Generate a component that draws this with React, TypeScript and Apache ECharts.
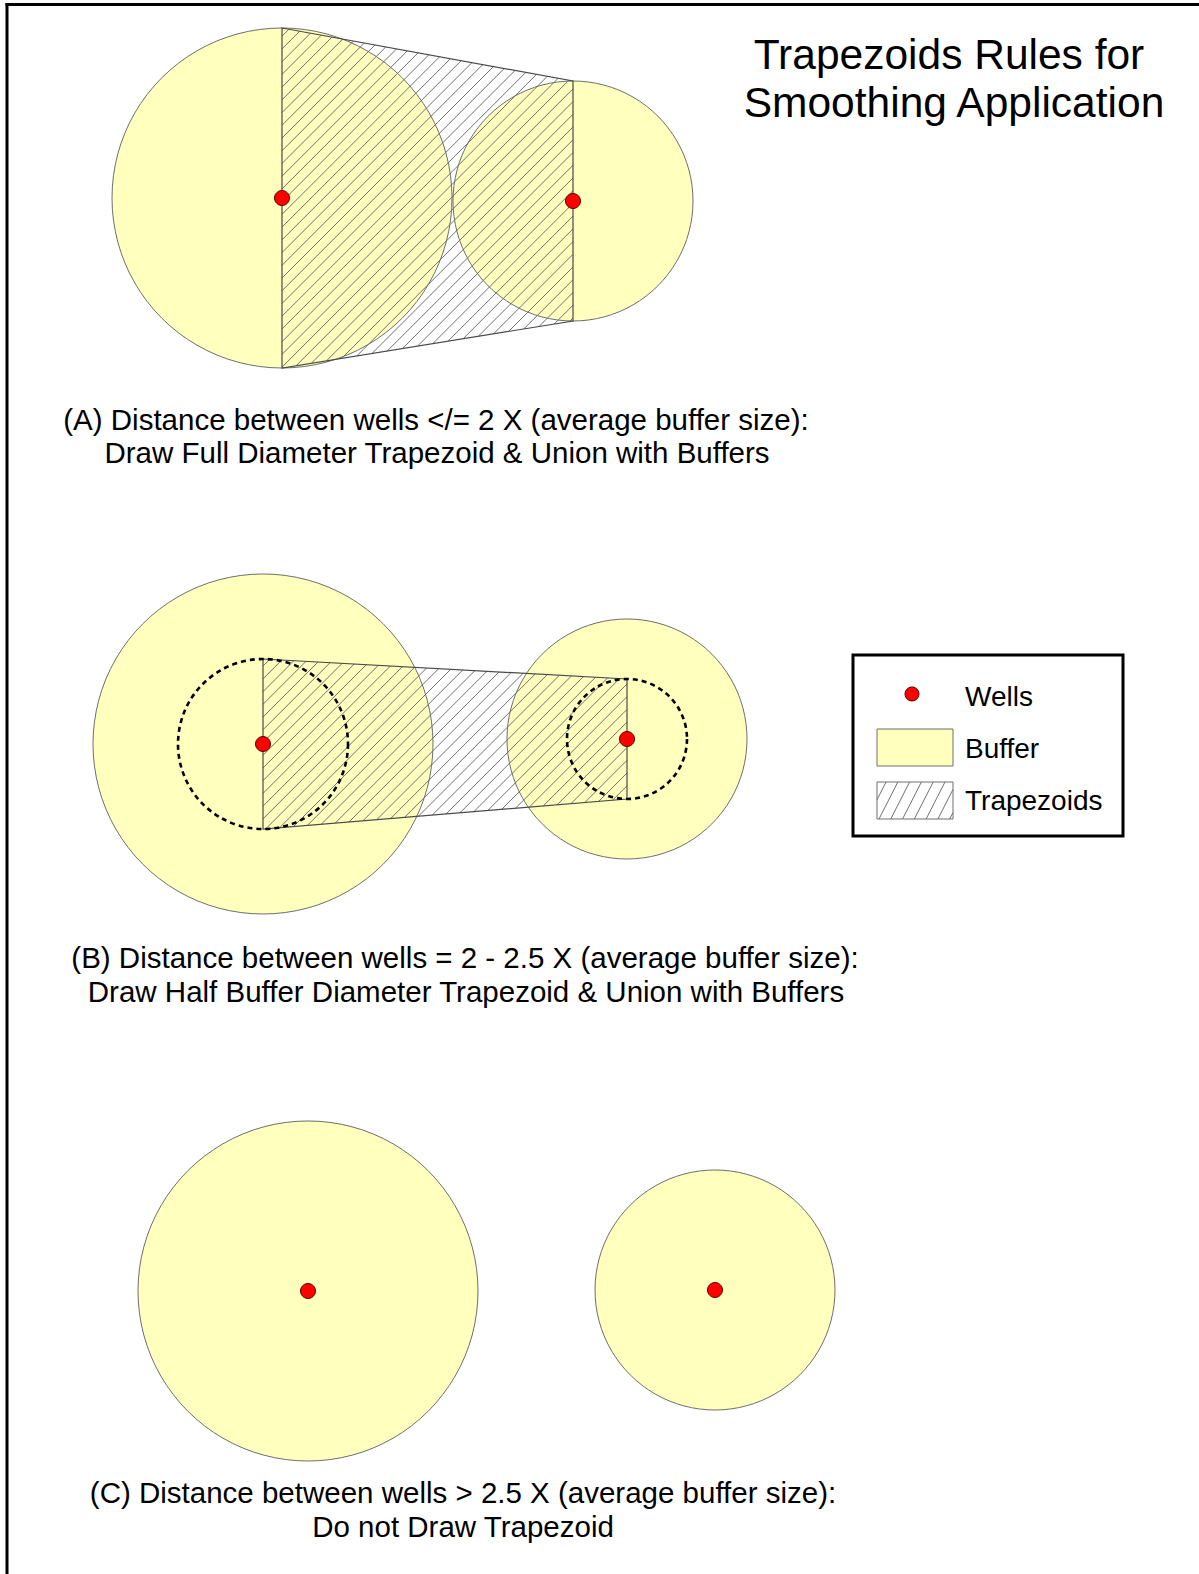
import React, { useEffect, useRef } from "react";
import * as echarts from "echarts";

const W = 1199;
const H = 1574;

// Diagram units (axis units = pixels of the figure)
// [centerX, centerY, radius]
const bufferCircles: number[][] = [
  [282, 198, 170],
  [573, 201, 120],
  [263, 744, 170],
  [627, 739, 120],
  [308, 1291, 170],
  [715, 1290, 120],
];
const halfBufferCircles: number[][] = [
  [263, 744, 85],
  [627, 739, 60],
];
// trapezoid corners x1,y1,x2,y2,x3,y3,x4,y4
const trapezoids: number[][] = [
  [282, 28, 573, 81, 573, 321, 282, 368],
  [263, 659, 627, 679, 627, 799, 263, 829],
];
const wells: number[][] = [
  [282, 198],
  [573, 201],
  [263, 744],
  [627, 739],
  [308, 1291],
  [715, 1290],
];

const titleLines = ["Trapezoids Rules for", "Smoothing Application"];
const captionsA = [
  "(A) Distance between wells </= 2 X (average buffer size):",
  "Draw Full Diameter Trapezoid & Union with Buffers",
];
const captionsB = [
  "(B) Distance between wells = 2 - 2.5 X (average buffer size):",
  "Draw Half Buffer Diameter Trapezoid & Union with Buffers",
];
const captionsC = [
  "(C) Distance between wells > 2.5 X (average buffer size):",
  "Do not Draw Trapezoid",
];
const legendLabels = ["Wells", "Buffer", "Trapezoids"];

const FONT = '"Liberation Sans", Arial, Helvetica, sans-serif';
const YELLOW = "#FFFFBE";
const OUTLINE = "#6E6E6E";
const HATCH = "#707070";

function hatchSegments(pts: number[][], spacing: number, angleDeg: number) {
  const a = (angleDeg * Math.PI) / 180;
  const d = [Math.cos(a), -Math.sin(a)];
  const n = [Math.sin(a), Math.cos(a)];
  const proj = pts.map((p) => p[0] * n[0] + p[1] * n[1]);
  const smin = Math.min(...proj);
  const smax = Math.max(...proj);
  const segs: number[][] = [];
  const start = Math.ceil(smin / spacing) * spacing;
  for (let s = start; s <= smax; s += spacing) {
    const hits: number[][] = [];
    for (let i = 0; i < pts.length; i++) {
      const j = (i + 1) % pts.length;
      const si = proj[i];
      const sj = proj[j];
      if (si === sj) continue;
      if ((si - s) * (sj - s) <= 0) {
        const t = (s - si) / (sj - si);
        hits.push([
          pts[i][0] + t * (pts[j][0] - pts[i][0]),
          pts[i][1] + t * (pts[j][1] - pts[i][1]),
        ]);
      }
    }
    if (hits.length >= 2) {
      hits.sort(
        (p, q) => p[0] * d[0] + p[1] * d[1] - (q[0] * d[0] + q[1] * d[1])
      );
      const p = hits[0];
      const q = hits[hits.length - 1];
      segs.push([p[0], p[1], q[0], q[1]]);
    }
  }
  return segs;
}

function circleRenderer(style: any) {
  return (params: any, api: any) => {
    const c = api.coord([api.value(0), api.value(1)]);
    const sz = api.size([api.value(2), api.value(2)]);
    const r = Math.abs(sz[0]);
    return {
      type: "circle",
      shape: { cx: c[0], cy: c[1], r },
      style,
    };
  };
}

function textEl(text: string, x: number, y: number, size: number, align = "center") {
  return {
    type: "text",
    x,
    y,
    silent: true,
    style: {
      text,
      fill: "#000",
      fontSize: size,
      fontFamily: FONT,
      align,
      verticalAlign: "middle",
      textAlign: align,
      textVerticalAlign: "middle",
    },
  };
}

export default function App() {
  const ref = useRef<HTMLDivElement>(null);

  useEffect(() => {
    if (!ref.current) return;
    const chart = echarts.init(ref.current, null, {
      renderer: "svg",
      width: W,
      height: H,
    });

    const capSize = 29.5;
    const legendSize = 28;
    const legendBox = { x: 877, w: 76, h: 37 };
    const legendHatchPts = [
      [legendBox.x, 782],
      [legendBox.x + legendBox.w, 782],
      [legendBox.x + legendBox.w, 782 + legendBox.h],
      [legendBox.x, 782 + legendBox.h],
    ];
    const legendHatch = hatchSegments(legendHatchPts, 10.5, 63).map((s) => ({
      type: "line",
      silent: true,
      shape: { x1: s[0], y1: s[1], x2: s[2], y2: s[3] },
      style: { stroke: HATCH, lineWidth: 1 },
    }));

    const option: any = {
      animation: false,
      backgroundColor: "#ffffff",
      grid: { left: 0, right: 0, top: 0, bottom: 0, containLabel: false },
      xAxis: { type: "value", min: 0, max: W, show: false },
      yAxis: { type: "value", min: 0, max: H, inverse: true, show: false },
      series: [
        {
          type: "custom",
          name: "Buffer",
          coordinateSystem: "cartesian2d",
          data: bufferCircles,
          renderItem: circleRenderer({
            fill: YELLOW,
            stroke: OUTLINE,
            lineWidth: 1,
          }),
          silent: true,
        },
        {
          type: "scatter",
          name: "Wells",
          data: wells,
          symbol: "circle",
          symbolSize: 15,
          itemStyle: { color: "#FF0000", borderColor: "#5A0000", borderWidth: 1, opacity: 1 },
          silent: true,
        },
        {
          type: "custom",
          name: "Trapezoids",
          coordinateSystem: "cartesian2d",
          data: trapezoids,
          renderItem: (params: any, api: any) => {
            const pts = [0, 1, 2, 3].map((k) =>
              api.coord([api.value(2 * k), api.value(2 * k + 1)])
            );
            const segs = hatchSegments(pts, 9, 45);
            return {
              type: "group",
              children: [
                ...segs.map((s) => ({
                  type: "line",
                  shape: { x1: s[0], y1: s[1], x2: s[2], y2: s[3] },
                  style: { stroke: HATCH, lineWidth: 1 },
                })),
                {
                  type: "polygon",
                  shape: { points: pts },
                  style: { fill: "none", stroke: "#4A4A4A", lineWidth: 1.2 },
                },
              ],
            };
          },
          silent: true,
        },
        {
          type: "custom",
          name: "Half buffer",
          coordinateSystem: "cartesian2d",
          data: halfBufferCircles,
          renderItem: circleRenderer({
            fill: "none",
            stroke: "#000",
            lineWidth: 2.6,
            lineDash: [5, 4],
          }),
          silent: true,
        },
      ],
      graphic: {
        elements: [
          {
            type: "line",
            shape: { x1: 5.5, y1: 4.5, x2: W, y2: 4.5 },
            style: { stroke: "#000", lineWidth: 3 },
            silent: true,
          },
          {
            type: "line",
            shape: { x1: 7, y1: 3, x2: 7, y2: H },
            style: { stroke: "#000", lineWidth: 3 },
            silent: true,
          },
          textEl(titleLines[0], 949, 54, 42.5),
          textEl(titleLines[1], 954, 102, 42.5),
          textEl(captionsA[0], 436, 419, capSize),
          textEl(captionsA[1], 437, 452, capSize),
          textEl(captionsB[0], 465, 957, capSize),
          textEl(captionsB[1], 466, 991, capSize),
          textEl(captionsC[0], 463, 1492, capSize),
          textEl(captionsC[1], 463, 1526, capSize),
          {
            type: "rect",
            shape: { x: 853, y: 655, width: 270, height: 181 },
            style: { fill: "#fff", stroke: "#000", lineWidth: 3 },
            silent: true,
          },
          {
            type: "circle",
            shape: { cx: 912, cy: 694, r: 7 },
            style: { fill: "#FF0000", stroke: "#5A0000", lineWidth: 1 },
            silent: true,
          },
          {
            type: "rect",
            shape: { x: legendBox.x, y: 729, width: legendBox.w, height: legendBox.h },
            style: { fill: YELLOW, stroke: OUTLINE, lineWidth: 1 },
            silent: true,
          },
          {
            type: "rect",
            shape: { x: legendBox.x, y: 782, width: legendBox.w, height: legendBox.h },
            style: { fill: "#fff", stroke: OUTLINE, lineWidth: 1 },
            silent: true,
          },
          ...legendHatch,
          textEl(legendLabels[0], 965, 696, legendSize, "left"),
          textEl(legendLabels[1], 965, 748, legendSize, "left"),
          textEl(legendLabels[2], 965, 800, legendSize, "left"),
        ],
      },
    };

    chart.setOption(option);
    return () => chart.dispose();
  }, []);

  return (
    <div
      ref={ref}
      style={{
        position: "absolute",
        left: 0,
        top: 0,
        width: W,
        height: H,
        overflow: "hidden",
        background: "#fff",
      }}
    />
  );
}
